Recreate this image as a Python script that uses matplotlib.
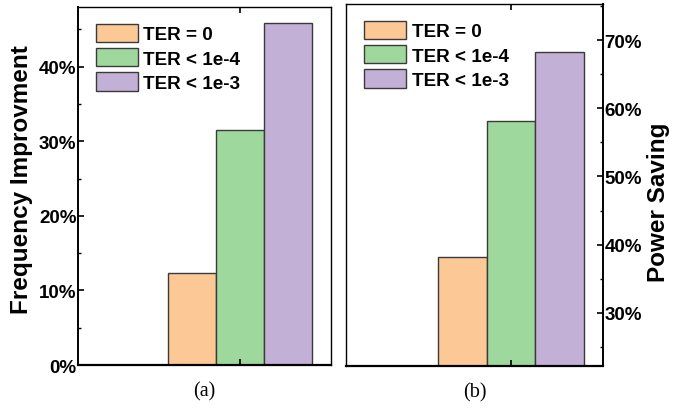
import numpy as np
import matplotlib
matplotlib.use('Agg')
from matplotlib import pyplot as plt
from matplotlib.ticker import MultipleLocator, PercentFormatter

plt.rcParams['font.family'] = ['Liberation Sans', 'DejaVu Sans']
plt.rcParams['font.weight'] = 'bold'

labels = ['TER = 0', 'TER < 1e-4', 'TER < 1e-3']
colors = ['#FBC896', '#9FD89C', '#C2B0D6']
freq_improve = [12.3, 31.5, 45.8]
power_saving = [38.2, 58.2, 68.2]

w = 0.25
fig = plt.figure(figsize=(6.94, 4.10), dpi=100)
ax1 = fig.add_axes([0.1124, 0.1073, 0.3646, 0.8732])
ax2 = fig.add_axes([0.4986, 0.1049, 0.3703, 0.8829])


def draw(ax, vals, ylim, side, ylabel, caption):
    for i, v in enumerate(vals):
        ax.bar((i - 1) * w, v - ylim[0], w, bottom=ylim[0], color=colors[i],
               edgecolor='#3a3a3a', linewidth=1.0, label=labels[i])
    ax.set_xlim(-0.845, 0.472)
    ax.set_ylim(*ylim)
    ax.set_xticks([0])
    ax.set_xticklabels([])
    ax.yaxis.set_major_locator(MultipleLocator(10))
    ax.yaxis.set_minor_locator(MultipleLocator(5))
    ax.yaxis.set_major_formatter(PercentFormatter(decimals=0))
    ax.tick_params(axis='x', which='both', direction='in', top=True, length=4, width=1.2)
    ax.tick_params(axis='y', which='major', direction='in', length=4, width=1.2,
                   labelsize=13.5, pad=1)
    ax.tick_params(axis='y', which='minor', direction='in', length=2.5, width=1.0)
    for s in ax.spines.values():
        s.set_linewidth(1.0)
    ax.spines['bottom'].set_linewidth(1.6)
    ax.set_ylabel(ylabel, fontsize=17.5, fontweight='bold')
    if side == 'right':
        ax.yaxis.tick_right()
        ax.yaxis.set_label_position('right')
        ax.tick_params(axis='y', which='both', left=False, right=True)
        ax.spines['right'].set_linewidth(1.4)
        ax.yaxis.set_label_coords(1.171, 0.456)
    else:
        ax.spines['left'].set_linewidth(1.4)
        ax.yaxis.set_label_coords(-0.178, 0.52)
    ax.legend(loc='upper left', bbox_to_anchor=(0.005, 1.0), frameon=False,
              fontsize=13.6, handlelength=2.2, handleheight=1.1,
              handletextpad=0.3, labelspacing=0.25, borderaxespad=0.5)
    ax.text(0.5, -0.072, caption, transform=ax.transAxes, ha='center', va='center',
            fontsize=14.5, fontweight='normal', family=['Liberation Serif', 'DejaVu Serif'])


draw(ax1, freq_improve, (0, 48), 'left', 'Frequency Improvment', '(a)')
draw(ax2, power_saving, (22.2, 75.3), 'right', 'Power Saving', '(b)')

fig.savefig('out.png', dpi=100)
